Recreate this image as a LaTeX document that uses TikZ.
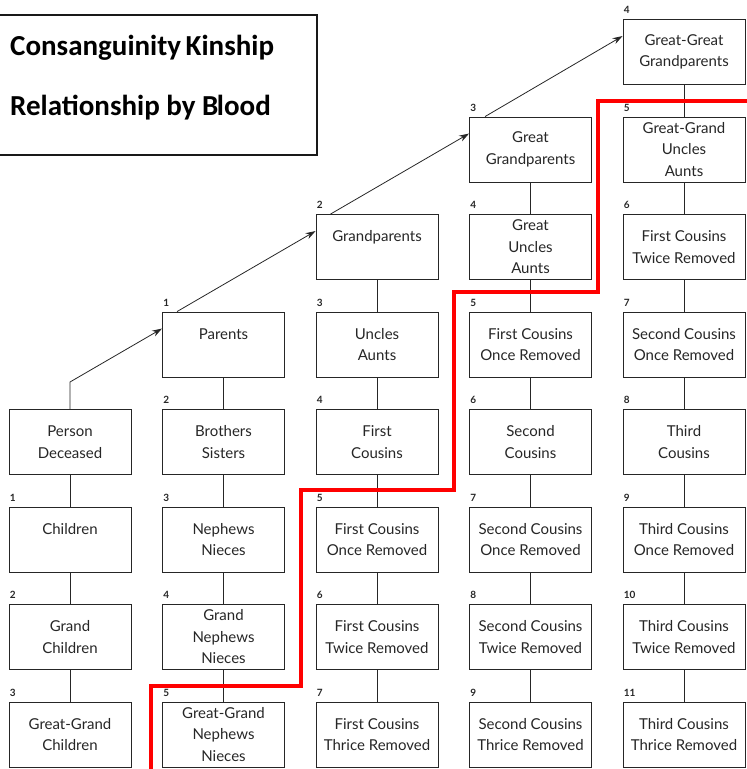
\documentclass[tikz,border=0pt]{standalone}
\usepackage{fontspec}
\setmainfont{Lato}
\newfontfamily\titlefont{Carlito}
\usetikzlibrary{arrows.meta}
\newcommand\kinbox[5]{%
  \node[kbox] (#1) at (#2,#3) {#5};
  \node[numlab] (#1n) at ([xshift=1pt,yshift=5pt]#1.north west) {#4};
}
\begin{document}
\begin{tikzpicture}[x=1pt,y=-1pt,
  kbox/.style={draw=black!85, line width=0.9pt, minimum width=122pt, minimum height=65pt,
    inner sep=0pt, align=center, text=black!85, font=\fontsize{15}{21.5}\selectfont},
  numlab/.style={font=\bfseries\fontsize{10}{10}\selectfont, anchor=south west, inner sep=0pt, text=black!85},
  link/.style={draw=black!85, line width=0.8pt},
  arr/.style={link, -{Stealth[length=10pt,width=6.5pt]}},
  redline/.style={draw=red, line width=4.5pt, line join=miter},
  ttl/.style={anchor=base west, inner sep=0pt, font=\titlefont\bfseries\fontsize{29}{29}\selectfont},
  ]
\useasboundingbox (0,0) rectangle (747,769);
% title
\node[draw=black!90, line width=1.2pt, minimum width=319pt, minimum height=140pt, inner sep=0pt] (titlebox) at (157.5,85) {};
\node[ttl] (t1) at (10,55) {Consanguinity\kern-2pt{} Kinship};
\node[ttl] (t2) at (10,115) {Relationship by B\kern-1.5pt lood};
% column 0
\node[kbox] (a4) at (70,442) {Person\\Deceased};
\kinbox{a5}{70}{539.5}{1}{Children\\\phantom{X}}
\kinbox{a6}{70}{637}{2}{Grand\\Children}
\kinbox{a7}{70}{734.5}{3}{Great-Grand\\Children}
% column 1
\kinbox{b3}{223.5}{344.5}{1}{Parents\\\phantom{X}}
\kinbox{b4}{223.5}{442}{2}{Brothers\\Sisters}
\kinbox{b5}{223.5}{539.5}{3}{Nephews\\Nieces}
\kinbox{b6}{223.5}{637}{4}{Grand\\Nephews\\Nieces}
\kinbox{b7}{223.5}{734.5}{5}{Great-Grand\\Nephews\\Nieces}
% column 2
\kinbox{c2}{377}{247}{2}{Grandparents\\\phantom{X}}
\kinbox{c3}{377}{344.5}{3}{Uncles\\Aunts}
\kinbox{c4}{377}{442}{4}{First\\Cousins}
\kinbox{c5}{377}{539.5}{5}{First Cousins\\Once Removed}
\kinbox{c6}{377}{637}{6}{First Cousins\\Twice Removed}
\kinbox{c7}{377}{734.5}{7}{First Cousins\\Thrice Removed}
% column 3
\kinbox{d1}{530.5}{149.5}{3}{Great\\Grandparents}
\kinbox{d2}{530.5}{247}{4}{Great\\Uncles\\Aunts}
\kinbox{d3}{530.5}{344.5}{5}{First Cousins\\Once Removed}
\kinbox{d4}{530.5}{442}{6}{Second\\Cousins}
\kinbox{d5}{530.5}{539.5}{7}{Second Cousins\\Once Removed}
\kinbox{d6}{530.5}{637}{8}{Second Cousins\\Twice Removed}
\kinbox{d7}{530.5}{734.5}{9}{Second Cousins\\Thrice Removed}
% column 4
\kinbox{e0}{684}{52}{4}{Great-Great\\Grandparents}
\kinbox{e1}{684}{149.5}{5}{Great-Grand\\Uncles\\Aunts}
\kinbox{e2}{684}{247}{6}{First Cousins\\Twice Removed}
\kinbox{e3}{684}{344.5}{7}{Second Cousins\\Once Removed}
\kinbox{e4}{684}{442}{8}{Third\\Cousins}
\kinbox{e5}{684}{539.5}{9}{Third Cousins\\Once Removed}
\kinbox{e6}{684}{637}{10}{Third Cousins\\Twice Removed}
\kinbox{e7}{684}{734.5}{11}{Third Cousins\\Thrice Removed}
% vertical links
\foreach \u/\v in {a4/a5,a5/a6,a6/a7,b3/b4,b4/b5,b5/b6,b6/b7,c2/c3,c3/c4,c4/c5,c5/c6,c6/c7,
  d1/d2,d2/d3,d3/d4,d4/d5,d5/d6,d6/d7,e0/e1,e1/e2,e2/e3,e3/e4,e4/e5,e5/e6,e6/e7}
  \draw[link] (\u) -- (\v);
% ascending arrows
\coordinate (bend) at (70,382);
\draw[arr] (a4.north) -- (bend) -- ([yshift=-17pt]b3.north west);
\draw[arr] ([xshift=15pt]b3.north west) -- ([yshift=-17pt]c2.north west);
\draw[arr] ([xshift=15pt]c2.north west) -- ([yshift=-17pt]d1.north west);
\draw[arr] ([xshift=16pt]d1.north west) -- ([yshift=-17pt]e0.north west);
% red line
\draw[redline] (151,772) -- (151,686) -- (301,686) -- (301,490) -- (454,490) -- (454,292) -- (598,292) -- (598,101) -- (750,101);
\end{tikzpicture}
\end{document}
